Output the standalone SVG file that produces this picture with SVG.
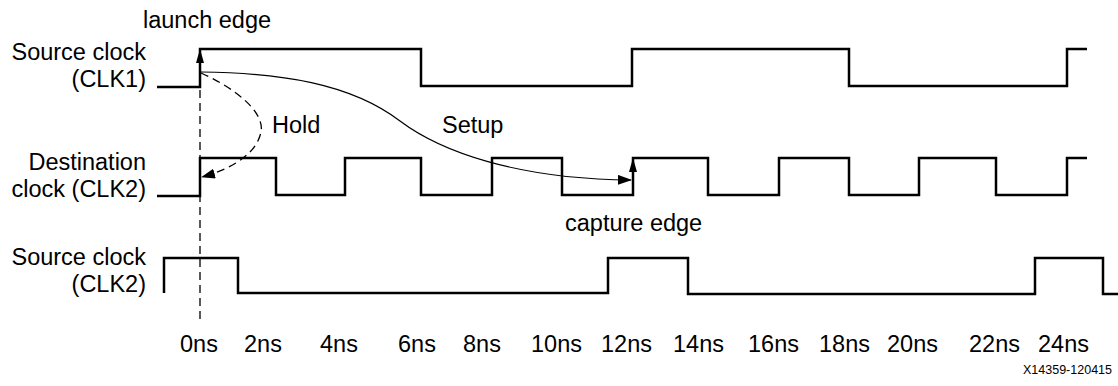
<svg xmlns="http://www.w3.org/2000/svg" width="1118" height="386" viewBox="0 0 1118 386">
  <style>
    text { font-family: "Liberation Sans", Arial, sans-serif; font-size: 23.5px; fill: #000; }
    .lbl { text-anchor: end; }
    .wave { fill: none; stroke: #000; stroke-width: 2.5; stroke-linejoin: miter; }
    .thin { fill: none; stroke: #000; stroke-width: 1.2; }
    .dash { fill: none; stroke: #000; stroke-width: 1.3; stroke-dasharray: 8 5; }
    .code { font-size: 12.5px; text-anchor: end; }
  </style>
  <defs>
    <marker id="ah" viewBox="0 0 14 10" refX="13" refY="5" markerWidth="14" markerHeight="10" orient="auto" markerUnits="userSpaceOnUse">
      <path d="M0,0 L14,5 L0,10 z" fill="#000"/>
    </marker>
    <marker id="ahv" viewBox="0 0 14 8" refX="13" refY="4" markerWidth="14" markerHeight="8" orient="auto" markerUnits="userSpaceOnUse">
      <path d="M0,0 L14,4 L0,8 z" fill="#000"/>
    </marker>
  </defs>

  <g id="clk1">
    <text class="lbl" x="146" y="60">Source clock</text>
    <text class="lbl" x="146" y="87">(CLK1)</text>
    <path class="wave" d="M157,87 H200 V49 H421 V86 H632 V49 H849 V86 H1067 V49 H1087"/>
  </g>

  <g id="clk2-dest">
    <text class="lbl" x="146" y="170">Destination</text>
    <text class="lbl" x="146" y="197">clock (CLK2)</text>
    <path class="wave" d="M157,196 H200 V158 H276 V195 H345 V158 H421 V195 H492 V158 H562 V195 H633 V158 H708 V195 H779 V158 H849 V195 H919 V158 H996 V195 H1067 V158 H1087"/>
  </g>

  <g id="clk2-src">
    <text class="lbl" x="146" y="265">Source clock</text>
    <text class="lbl" x="146" y="292">(CLK2)</text>
    <path class="wave" d="M164,293 V258 H238 V293 H608 V258 H688 V294 H1035 V258 H1103 V294 H1118"/>
  </g>

  <g id="connectors">
    <path class="dash" d="M200,90 V320"/>
    <path class="thin" d="M200,70 V50" marker-end="url(#ahv)"/>
    <path class="thin" d="M633,190 V159" marker-end="url(#ahv)"/>
    <path class="thin" d="M201,72 C280,73 350,83 400,121 C440,151 515,179 631,180" marker-end="url(#ah)"/>
    <path class="dash" d="M201,73 C235,88 265,112 261,132 C257,152 235,168 202,177" marker-end="url(#ah)"/>
  </g>

  <g id="annotations">
    <text x="143" y="28">launch edge</text>
    <text x="272" y="133">Hold</text>
    <text x="442" y="133">Setup</text>
    <text x="565" y="231">capture edge</text>
  </g>

  <g id="time-axis">
    <text x="180" y="352">0ns</text>
    <text x="244" y="352">2ns</text>
    <text x="320" y="352">4ns</text>
    <text x="398" y="352">6ns</text>
    <text x="463" y="352">8ns</text>
    <text x="531" y="352">10ns</text>
    <text x="601" y="352">12ns</text>
    <text x="673" y="352">14ns</text>
    <text x="748" y="352">16ns</text>
    <text x="819" y="352">18ns</text>
    <text x="887" y="352">20ns</text>
    <text x="969" y="352">22ns</text>
    <text x="1038" y="352">24ns</text>
    <text class="code" x="1112" y="374">X14359-120415</text>
  </g>
</svg>
